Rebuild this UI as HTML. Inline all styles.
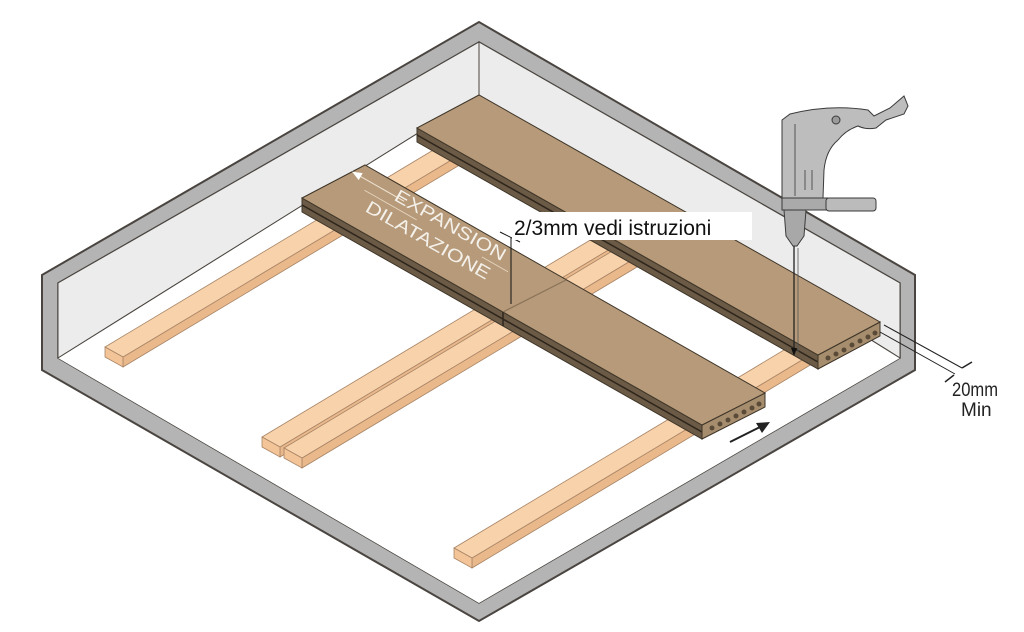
<!DOCTYPE html>
<html><head><meta charset="utf-8"><style>html,body{margin:0;padding:0;background:#fff}svg{display:block}</style></head>
<body>
<svg width="1024" height="632" viewBox="0 0 1024 632" xmlns="http://www.w3.org/2000/svg" font-family="Liberation Sans, sans-serif">
<polygon points="42,275 479,22 915,275 915,370 479,621 42,370" fill="#b4b4b4" stroke="#4a4540" stroke-width="2"/>
<polygon points="58,283 479,42 900,283 900,358 479,603 58,358" fill="#fff" stroke="#4a4540" stroke-width="1.5"/>
<polygon points="58,283 479,42 479,95 58,358" fill="#ececec" stroke="#4a4540" stroke-width="1"/>
<polygon points="479,42 900,283 900,358 479,95" fill="#ececec" stroke="#4a4540" stroke-width="1"/>
<polygon points="58,358 479,95 900,358 479,603" fill="#fff"/>
<line x1="58" y1="358" x2="479" y2="95" stroke="#4a4540" stroke-width="1"/>
<line x1="479" y1="95" x2="900" y2="358" stroke="#4a4540" stroke-width="1"/>
<line x1="479" y1="42" x2="479" y2="95" stroke="#4a4540" stroke-width="1"/>

<g stroke="#a88466" stroke-width="0.8">
 <polygon points="123,357 473,147 473,157 123,367" fill="#e9b98c"/>
 <polygon points="105,347 455,137 473,147 123,357" fill="#f7d2ab"/>
 <polygon points="105,347 123,357 123,367 105,357" fill="#f2c497"/>
 <polygon points="280,447 630,237 630,247 280,457" fill="#e9b98c"/>
 <polygon points="262,437 612,227 630,237 280,447" fill="#f7d2ab"/>
 <polygon points="262,437 280,447 280,457 262,447" fill="#f2c497"/>
 <polygon points="302,458 652,248 652,258 302,468" fill="#e9b98c"/>
 <polygon points="284,448 634,238 652,248 302,458" fill="#f7d2ab"/>
 <polygon points="284,448 302,458 302,468 284,458" fill="#f2c497"/>
 <polygon points="472,558 822,348 822,358 472,568" fill="#e9b98c"/>
 <polygon points="454,548 804,338 822,348 472,558" fill="#f7d2ab"/>
 <polygon points="454,548 472,558 472,568 454,558" fill="#f2c497"/>
</g>

<g stroke="#3e3528" stroke-width="1">
 <polygon points="417,128 818,355 818,369 417,142" fill="#6b5a45"/>
 <line x1="417" y1="135" x2="818" y2="362" stroke="#2e261c" stroke-width="1.5"/>
 <polygon points="818,355 880,322 880,336 818,369" fill="#a68d6e"/>
 <polygon points="417,128 479,95 880,322 818,355" fill="#b69a79"/>
 <g fill="#5a4a38" stroke="none">
  <circle cx="828" cy="358" r="2.5"/><circle cx="836" cy="354" r="2.5"/><circle cx="844" cy="350" r="2.5"/><circle cx="852" cy="345" r="2.5"/><circle cx="860" cy="341" r="2.5"/><circle cx="868" cy="337" r="2.5"/><circle cx="875" cy="333" r="2.5"/>
 </g>
</g>
<g stroke="#3e3528" stroke-width="1">
 <polygon points="302,198 702,425 702,439 302,212" fill="#6b5a45"/>
 <line x1="302" y1="205" x2="702" y2="432" stroke="#2e261c" stroke-width="1.5"/>
 <polygon points="702,425 765,393 765,407 702,439" fill="#a68d6e"/>
 <polygon points="302,198 365,165 765,393 702,425" fill="#b69a79"/>
 <line x1="503" y1="312" x2="566" y2="280" stroke="#8a7357" stroke-width="1.2"/>
 <line x1="503" y1="312" x2="503" y2="326" stroke="#2e261c" stroke-width="1.5"/>
 <g fill="#5a4a38" stroke="none">
  <circle cx="712" cy="428" r="2.5"/><circle cx="720" cy="424" r="2.5"/><circle cx="728" cy="420" r="2.5"/><circle cx="736" cy="416" r="2.5"/><circle cx="744" cy="412" r="2.5"/><circle cx="752" cy="408" r="2.5"/><circle cx="759" cy="404" r="2.5"/>
 </g>
</g>
<g transform="translate(435,228) rotate(29.6)">
 <line x1="-92" y1="-8" x2="-40" y2="-8" stroke="#f0e4d4" stroke-width="1"/>
 <polygon points="-100,-8 -90,-12 -90,-4" fill="#fff"/>
 <text x="12" y="-4" font-size="18" fill="#f4f0ea" text-anchor="middle" textLength="125" lengthAdjust="spacingAndGlyphs">EXPANSION</text>
 <line x1="-80" y1="2" x2="-20" y2="2" stroke="#e8d8c4" stroke-width="0.8"/>
 <line x1="55" y1="2" x2="85" y2="2" stroke="#e8d8c4" stroke-width="0.8"/>
 <text x="0" y="20" font-size="18" fill="#f4f0ea" text-anchor="middle" textLength="140" lengthAdjust="spacingAndGlyphs">DILATAZIONE</text>
</g>
<line x1="511" y1="238" x2="511" y2="304" stroke="#111" stroke-width="1"/>
<line x1="500" y1="232" x2="520" y2="242" stroke="#111" stroke-width="1"/>
<rect x="512" y="212" width="240" height="28" fill="#fff"/>
<text x="514" y="235" font-size="21" fill="#111">2/3mm vedi istruzioni</text>

<g stroke="#3a3a3a" stroke-width="1" fill="#bdbdbd">
 <path d="M782,120 L790,114 Q830,104 868,110 L874,116 L890,108 L904,96 L908,106 L904,114 L886,120 L876,128 Q866,130 858,126 Q846,130 838,140 Q826,150 824,170 L823,198 L782,198 Z"/>
 <circle cx="836" cy="120" r="4" fill="#9a9a9a"/>
 <line x1="795" y1="124" x2="795" y2="196" stroke="#555"/>
 <line x1="805" y1="170" x2="805" y2="190" stroke="#555"/>
 <line x1="812" y1="170" x2="812" y2="190" stroke="#555"/>
 <rect x="782" y="198" width="46" height="12" fill="#aaa"/>
 <rect x="826" y="198" width="50" height="13" rx="3" fill="#bbb"/>
 <path d="M784,210 L806,210 L804,236 L797,246 L793,246 L786,236 Z" fill="#a8a8a8"/>
</g>
<line x1="794" y1="246" x2="794" y2="352" stroke="#222" stroke-width="1.3"/>
<line x1="798" y1="248" x2="798" y2="352" stroke="#555" stroke-width="0.8"/>
<polygon points="791,348 797,348 794,356" fill="#111"/>

<line x1="884" y1="325" x2="962" y2="368" stroke="#222" stroke-width="1"/>
<line x1="880" y1="332" x2="955" y2="374" stroke="#222" stroke-width="1"/>
<line x1="945" y1="382" x2="954" y2="375" stroke="#222" stroke-width="1.5"/>
<line x1="962" y1="368" x2="972" y2="362" stroke="#222" stroke-width="1.5"/>
<text x="952" y="396" font-size="19" fill="#222" textLength="46" lengthAdjust="spacingAndGlyphs">20mm</text>
<text x="961" y="416" font-size="19" fill="#222">Min</text>
<line x1="730" y1="442" x2="760" y2="427" stroke="#222" stroke-width="2"/>
<polygon points="770,422 756,423 762,433" fill="#222"/>
</svg>
</body></html>
